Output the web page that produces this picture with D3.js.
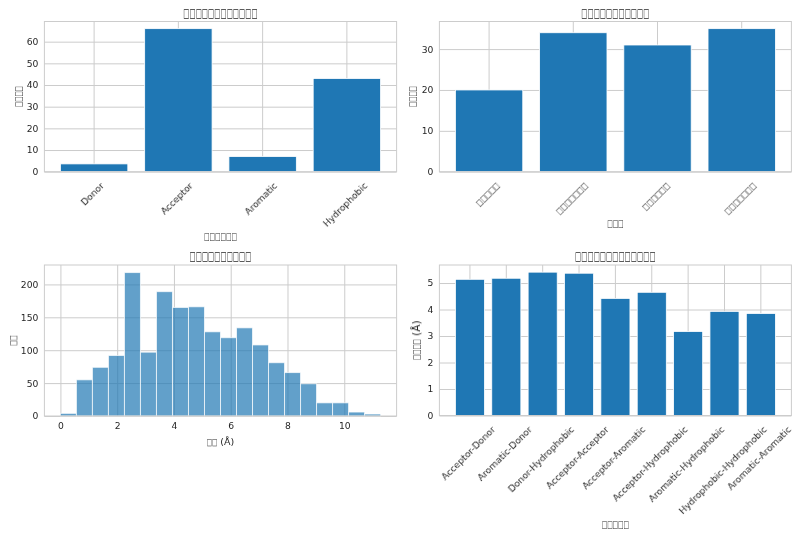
<!DOCTYPE html>
<html>
<head>
<meta charset="utf-8">
<script src="https://cdn.jsdelivr.net/npm/d3@7"></script>
<style>
    body { margin: 0; background: #fff; }
    text { font-family: "DejaVu Sans", sans-serif; fill: #262626; filter: grayscale(1) blur(0.25px); }
    .grid line { stroke: #cccccc; stroke-width: 1; }
    .grid .domain { display: none; }
    .labels .domain, .labels line { display: none; }
    .labels text { font-size: 9.2px; }
</style>
</head>
<body>
<div id="chart"></div>
<script>
// the CJK labels render as empty boxes in the reference, so they stay as boxes here
const featureTypes = ["Donor", "Acceptor", "Aromatic", "Hydrophobic"];
const featureCounts = [3.6, 66, 7, 43];

const pocketNames = ["□□□□□", "□□□□□□□", "□□□□□□", "□□□□□□□"];
const pocketCounts = [20, 34, 31, 35];

const binCounts = [4, 55, 74, 92, 218, 97, 189, 165, 166, 128, 119, 134, 108, 81, 66, 49, 20, 20, 6, 3];
const binWidth = 0.564;
const distanceTicks = [0, 2, 4, 6, 8, 10];

const pairNames = ["Acceptor-Donor", "Aromatic-Donor", "Donor-Hydrophobic", "Acceptor-Acceptor", "Acceptor-Aromatic",
    "Acceptor-Hydrophobic", "Aromatic-Hydrophobic", "Hydrophobic-Hydrophobic", "Aromatic-Aromatic"];
const pairDistances = [5.14, 5.18, 5.41, 5.37, 4.42, 4.65, 3.17, 3.93, 3.85];

const width = 800;
const height = 535;
const barColor = "#1f77b4";

var svg = d3.select("#chart").append("svg")
    .attr("width", width)
    .attr("height", height)
    .style("display", "block");

// a label is a run of boxes and maybe a latin suffix, placed side by side.
// the boxes get squeezed because the font's own square is wider than the reference's
function addText(x, y, label, size, advance, rotate) {
    var boxes = label.match(/^□+/)[0];
    var suffix = label.slice(boxes.length);
    var g = svg.append("g")
        .attr("transform", "translate(" + x + "," + y + ")" + (rotate ? " rotate(-90)" : ""));
    var first = g.append("text")
        .attr("dy", "0.35em")
        .attr("font-size", size)
        .text(boxes);
    var boxWidth = boxes.length * advance;
    var squeeze = boxWidth / first.node().getComputedTextLength();

    var total = boxWidth;
    if (suffix) {
        var second = g.append("text")
            .attr("dy", "0.35em")
            .attr("font-size", size)
            .style("white-space", "pre")
            .text(suffix);
        total += second.node().getComputedTextLength();
        second.attr("x", -total / 2 + boxWidth);
    }
    first.attr("transform", "translate(" + (-total / 2) + ",0) scale(" + squeeze + ",1)");
}

function drawFrame(box) {
    svg.append("rect")
        .attr("x", box.left)
        .attr("y", box.top)
        .attr("width", box.right - box.left)
        .attr("height", box.bottom - box.top)
        .attr("fill", "none")
        .attr("stroke", "#cccccc");
}

function drawGridY(box, y, ticks) {
    svg.append("g")
        .attr("class", "grid")
        .attr("transform", "translate(" + box.left + ",0)")
        .call(d3.axisLeft(y).tickValues(ticks).tickSize(-(box.right - box.left)).tickFormat(""));
}

function drawLabelsY(box, y, ticks) {
    svg.append("g")
        .attr("class", "labels")
        .attr("transform", "translate(" + (box.left - 3) + ",0)")
        .call(d3.axisLeft(y).tickValues(ticks).tickSize(0).tickPadding(3).tickFormat(d3.format("d")));
}

function barPanel(box, names, values, yMax, yTicks, boxTick, texts) {
    var outer = (names.length - 0.2) * 0.05;
    // names can repeat once they are boxes, so the band scale runs on the index
    var x = d3.scaleBand()
        .domain(d3.range(names.length))
        .range([box.left, box.right])
        .paddingInner(0.2)
        .paddingOuter(outer);
    var y = d3.scaleLinear()
        .domain([0, yMax])
        .range([box.bottom, box.top]);

    svg.append("g")
        .attr("class", "grid")
        .attr("transform", "translate(0," + box.bottom + ")")
        .call(d3.axisBottom(x).tickSize(-(box.bottom - box.top)).tickFormat(""));
    drawGridY(box, y, yTicks);

    svg.selectAll(null)
        .data(values)
        .enter()
        .append("rect")
        .attr("x", function (d, i) { return x(i); })
        .attr("y", function (d) { return y(d); })
        .attr("width", x.bandwidth())
        .attr("height", function (d) { return box.bottom - y(d); })
        .attr("fill", barColor)
        .attr("stroke", "#fff")
        .attr("stroke-width", 0.8);

    drawFrame(box);
    drawLabelsY(box, y, yTicks);

    // x labels turn around their own centre, top edge lined up under the axis
    var labels = svg.append("g")
        .attr("class", "labels")
        .attr("transform", "translate(0," + box.bottom + ")")
        .call(d3.axisBottom(x).tickSize(0).tickFormat(function (i) { return names[i]; }));
    labels.selectAll("text").each(function (i) {
        var t = d3.select(this);
        if (names[i][0] === "□") {
            t.attr("textLength", names[i].length * boxTick)
                .attr("lengthAdjust", "spacingAndGlyphs");
        }
        var len = names[i][0] === "□" ? names[i].length * boxTick : this.getComputedTextLength();
        var drop = 9 + (len + 10) * Math.SQRT1_2 / 2;
        t.attr("y", 0)
            .attr("dy", "0.35em")
            .attr("text-anchor", "middle")
            .attr("transform", "translate(-1.5," + drop + ") rotate(-45)");
    });

    addText((box.left + box.right) / 2, box.top - 9, texts.title, 12, 6.2);
    addText((box.left + box.right) / 2, texts.xLabelY, texts.xLabel, 10.5, 5.5);
    addText(texts.yLabelX, (box.top + box.bottom) / 2, texts.yLabel, 10.5, 5.2, true);
}

function histPanel(box, counts, yMax, yTicks, texts) {
    var x = d3.scaleLinear()
        .domain([-binWidth, (counts.length + 1) * binWidth])
        .range([box.left, box.right]);
    var y = d3.scaleLinear()
        .domain([0, yMax])
        .range([box.bottom, box.top]);

    svg.append("g")
        .attr("class", "grid")
        .attr("transform", "translate(0," + box.bottom + ")")
        .call(d3.axisBottom(x).tickValues(distanceTicks).tickSize(-(box.bottom - box.top)).tickFormat(""));
    drawGridY(box, y, yTicks);

    svg.selectAll(null)
        .data(counts)
        .enter()
        .append("rect")
        .attr("x", function (d, i) { return x(i * binWidth); })
        .attr("y", function (d) { return y(d); })
        .attr("width", x(binWidth) - x(0))
        .attr("height", function (d) { return box.bottom - y(d); })
        .attr("fill", barColor)
        .attr("fill-opacity", 0.7)
        .attr("stroke", "#fff")
        .attr("stroke-opacity", 0.7);

    drawFrame(box);
    drawLabelsY(box, y, yTicks);

    svg.append("g")
        .attr("class", "labels")
        .attr("transform", "translate(0," + (box.bottom + 3) + ")")
        .call(d3.axisBottom(x).tickValues(distanceTicks).tickSize(0).tickPadding(3));

    addText((box.left + box.right) / 2, box.top - 9, texts.title, 12, 6.2);
    addText((box.left + box.right) / 2, texts.xLabelY, texts.xLabel, 9.5, 5.3);
    addText(texts.yLabelX, (box.top + box.bottom) / 2, texts.yLabel, 9.5, 5.2, true);
}

barPanel({ left: 44.4, right: 396.6, top: 21.5, bottom: 171.7 }, featureTypes, featureCounts, 69.3,
    [0, 10, 20, 30, 40, 50, 60], 5.8,
    { title: "□□□□□□□□□□□□", xLabel: "□□□□□□", xLabelY: 236, yLabel: "□□□□", yLabelX: 18 });

barPanel({ left: 439.4, right: 791.4, top: 21.5, bottom: 171.7 }, pocketNames, pocketCounts, 36.75,
    [0, 10, 20, 30], 5.8,
    { title: "□□□□□□□□□□□", xLabel: "□□□", xLabelY: 223, yLabel: "□□□□", yLabelX: 412 });

histPanel({ left: 44.4, right: 396.6, top: 265, bottom: 416 }, binCounts, 229.5,
    [0, 50, 100, 150, 200],
    { title: "□□□□□□□□□□", xLabel: "□□ (Å)", xLabelY: 442, yLabel: "□□", yLabelX: 13 });

barPanel({ left: 439.4, right: 791.4, top: 265, bottom: 415.5 }, pairNames, pairDistances, 5.68,
    [0, 1, 2, 3, 4, 5], 5.8,
    { title: "□□□□□□□□□□□□□", xLabel: "□□□□□", xLabelY: 524, yLabel: "□□□□ (Å)", yLabelX: 416 });
</script>
</body>
</html>
